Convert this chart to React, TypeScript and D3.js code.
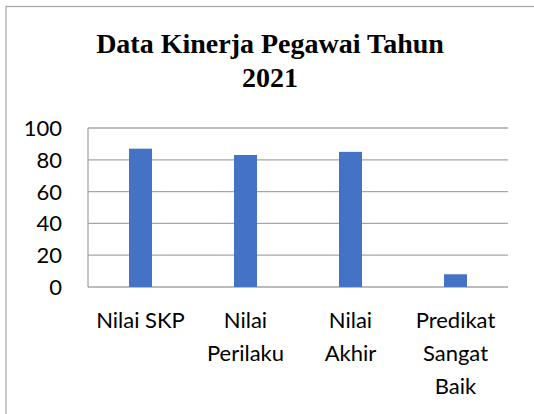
import * as d3 from "d3";

const categories = ["Nilai SKP", "Nilai Perilaku", "Nilai Akhir", "Predikat Sangat Baik"];
const values = [87, 83, 85, 8];
const yTicks = [0, 20, 40, 60, 80, 100];
const titleLines = ["Data Kinerja Pegawai Tahun", "2021"];

const W = 534;
const H = 414;
const margin = { top: 128, right: 26, bottom: 127, left: 88 };
const labelFont = "22px Lato";

// greedy word wrap, roughly the width Excel allows per category
function wrap(text: string, maxWidth: number): string[] {
  const ctx = document.createElement("canvas").getContext("2d")!;
  ctx.font = labelFont;
  const words = text.split(" ");
  const lines: string[] = [];
  let cur = "";
  for (const w of words) {
    const next = cur ? cur + " " + w : w;
    if (cur && ctx.measureText(next).width > maxWidth) {
      lines.push(cur);
      cur = w;
    } else {
      cur = next;
    }
  }
  if (cur) lines.push(cur);
  return lines;
}

export default function App() {
  const x = d3.scaleBand<string>()
    .domain(categories)
    .range([margin.left, W - margin.right]);
  const y = d3.scaleLinear()
    .domain([0, 100])
    .range([H - margin.bottom, margin.top]);
  const barW = 23;

  return (
    <svg
      width={W}
      height={H}
      style={{ position: "fixed", left: 0, top: 0, background: "#fff", display: "block" }}
    >
      {/* chart frame, runs off the page on the right and bottom */}
      <rect x={6} y={6.5} width={W + 20} height={H + 20} fill="none" stroke="#a6a6a6" strokeWidth={1.2} />

      <g fontFamily="'Liberation Serif', 'Times New Roman', serif" fontWeight="bold" fontSize={28} textAnchor="middle" fill="#000">
        {titleLines.map((t, i) => (
          <text key={i} x={270} y={53 + i * 34}>{t}</text>
        ))}
      </g>

      {/* gridlines */}
      <g>
        {yTicks.map((t) => (
          <line key={t} x1={margin.left} x2={W - margin.right} y1={y(t)} y2={y(t)} stroke="#a6a6a6" strokeWidth={1.3} />
        ))}
        <line x1={margin.left} x2={margin.left} y1={y(100)} y2={y(0)} stroke="#a6a6a6" strokeWidth={1.3} />
      </g>

      <g fontFamily="Lato, 'Open Sans', sans-serif" fontSize={22} fill="#000">
        {yTicks.map((t) => (
          <text key={t} x={62} y={y(t)} dy="0.36em" textAnchor="end">{t}</text>
        ))}
      </g>

      <g>
        {categories.map((c, i) => (
          <rect
            key={c}
            x={x(c)! + x.bandwidth() / 2 - barW / 2}
            y={y(values[i])}
            width={barW}
            height={y(0) - y(values[i])}
            fill="#4472c4"
          />
        ))}
      </g>

      <g fontFamily="Lato, 'Open Sans', sans-serif" fontSize={22} fill="#000" textAnchor="middle">
        {categories.map((c) => (
          <text key={c} x={x(c)! + x.bandwidth() / 2} y={328}>
            {wrap(c, 95).map((l, j) => (
              <tspan key={j} x={x(c)! + x.bandwidth() / 2} dy={j === 0 ? 0 : 33}>{l}</tspan>
            ))}
          </text>
        ))}
      </g>
    </svg>
  );
}
